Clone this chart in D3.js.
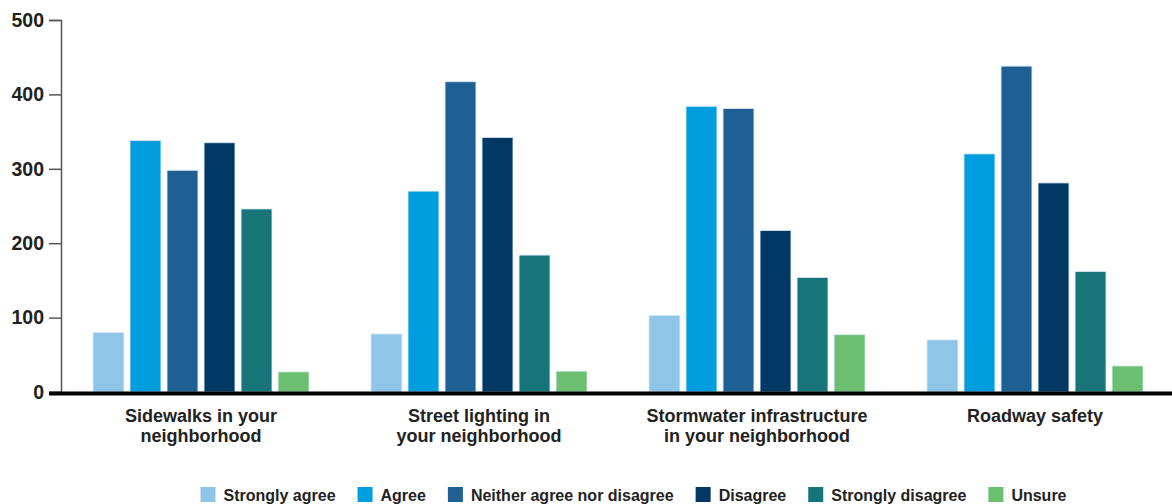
<!DOCTYPE html>
<html>
<head>
<meta charset="utf-8">
<script src="https://cdn.jsdelivr.net/npm/d3@7"></script>
<style>
  html, body { margin: 0; padding: 0; background: #ffffff; }
  svg { display: block; }
  text { font-family: "Liberation Sans", Arial, sans-serif; font-weight: bold; fill: #222222; }
</style>
</head>
<body>
<svg id="chart" width="1172" height="504"></svg>
<script>
// Survey responses by topic
const categories = [
  ["Sidewalks in your", "neighborhood"],
  ["Street lighting in", "your neighborhood"],
  ["Stormwater infrastructure", "in your neighborhood"],
  ["Roadway safety"]
];
const series = ["Strongly agree", "Agree", "Neither agree nor disagree", "Disagree", "Strongly disagree", "Unsure"];
const stronglyAgree    = [80, 78, 103, 70];
const agree            = [338, 270, 384, 320];
const neither          = [298, 417, 381, 438];
const disagree         = [335, 342, 217, 281];
const stronglyDisagree = [246, 184, 154, 162];
const unsure           = [27, 28, 77, 35];
const yTicks = [0, 100, 200, 300, 400, 500];
const colors = ["#8fc6e8", "#009ddf", "#1f6094", "#023864", "#177579", "#6bbf71"];

const seriesValues = [stronglyAgree, agree, neither, disagree, stronglyDisagree, unsure];
const catKeys = categories.map(c => c.join(" "));

const svg = d3.select("#chart");

const y = d3.scaleLinear().domain([0, 500]).range([392, 20]);
const x0 = d3.scaleBand().domain(catKeys).range([62, 1174]).padding(0);
const x1 = d3.scaleBand().domain(series).range([31, x0.bandwidth() - 31]).paddingInner(0.165).paddingOuter(0);

// y axis
const yAxis = d3.axisLeft(y).tickValues(yTicks).tickSize(12).tickPadding(5).tickSizeOuter(12);
const ga = svg.append("g").attr("transform", "translate(61,0)").call(yAxis);
ga.select(".domain").attr("stroke", "#555").attr("stroke-width", 1.5);
ga.selectAll(".tick line").attr("stroke", "#555").attr("stroke-width", 1.5);
ga.selectAll(".tick text")
  .attr("font-size", 19.5)
  .attr("font-family", "'Liberation Sans', Arial, sans-serif")
  .attr("font-weight", "bold")
  .attr("fill", "#222");

// bars
const groups = svg.append("g").selectAll("g")
  .data(catKeys)
  .join("g")
  .attr("transform", d => `translate(${x0(d)},0)`);

groups.selectAll("rect")
  .data((d, i) => series.map((s, j) => ({ s, j, v: seriesValues[j][i] })))
  .join("rect")
  .attr("x", d => x1(d.s))
  .attr("width", x1.bandwidth())
  .attr("y", d => y(d.v))
  .attr("height", d => y(0) - y(d.v))
  .attr("fill", d => colors[d.j])
  .attr("stroke", "#d8e8f4")
  .attr("stroke-width", 0.8);

// baseline
svg.append("line")
  .attr("x1", 49).attr("x2", 1172)
  .attr("y1", y(0) + 1.5).attr("y2", y(0) + 1.5)
  .attr("stroke", "#000").attr("stroke-width", 4);

// category labels
const lab = svg.append("g").selectAll("text")
  .data(categories)
  .join("text")
  .attr("text-anchor", "middle")
  .attr("font-size", 18)
  .attr("x", (d, i) => x0(catKeys[i]) + x0.bandwidth() / 2)
  .attr("y", 421.5);
lab.selectAll("tspan")
  .data(d => d)
  .join("tspan")
  .attr("x", function () { return d3.select(this.parentNode).attr("x"); })
  .attr("dy", (d, i) => i === 0 ? 0 : 20)
  .text(d => d);

// legend
const legend = svg.append("g");
const items = legend.selectAll("g")
  .data(series)
  .join("g");
items.append("rect")
  .attr("width", 15).attr("height", 15)
  .attr("y", -14)
  .attr("fill", (d, i) => colors[i]);
items.append("text")
  .attr("x", 23)
  .attr("y", 0)
  .attr("font-size", 16)
  .text(d => d);
let cx = 0;
const gap = 22;
items.each(function () {
  const g = d3.select(this);
  g.attr("transform", `translate(${cx},0)`);
  cx += 23 + g.select("text").node().getComputedTextLength() + gap;
});
const total = cx - gap;
legend.attr("transform", `translate(${633.5 - total / 2},501)`);
</script>
</body>
</html>
